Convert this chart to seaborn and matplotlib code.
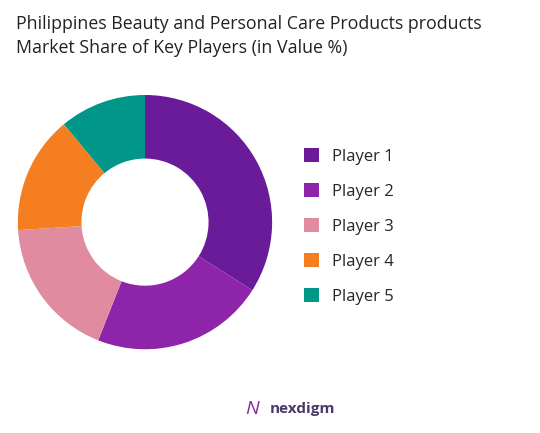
import matplotlib
matplotlib.use("Agg")
import matplotlib.pyplot as plt
import seaborn as sns

sns.set_theme(style="white")
plt.rcParams['font.family'] = ['Open Sans', 'DejaVu Sans']

players = ["Player 1", "Player 2", "Player 3", "Player 4", "Player 5"]
shares = [34, 22, 18, 15, 11]
colors = ["#6A1B9A", "#8E24AA", "#E08BA0", "#F57F20", "#009688"]

fig = plt.figure(figsize=(5.4, 4.33), dpi=100)
ax = fig.add_axes([-0.026, 0.12, 0.589, 0.734])
wedges, _ = ax.pie(shares, colors=colors, startangle=90, counterclock=False,
                   wedgeprops=dict(width=0.5, edgecolor='none'), radius=1.0)
ax.set_xlim(-1.25, 1.25)
ax.set_ylim(-1.25, 1.25)
ax.set_aspect('equal')
fig.legend(wedges, players, loc='center left', bbox_to_anchor=(0.535, 0.477),
           frameon=False, fontsize=12, handlelength=0.9, handleheight=0.9,
           labelspacing=1.1, handletextpad=0.8)
fig.text(0.03, 0.965, "Philippines Beauty and Personal Care Products products\nMarket Share of Key Players (in Value %)",
         fontsize=12.8, va='top', ha='left', color='#222222', linespacing=1.4)
fig.text(0.5, 0.055, "nexdigm", fontsize=11, ha='left', va='center', color='#4a3a6a', weight='bold')
fig.text(0.455, 0.055, "N", fontsize=14, ha='left', va='center', color='#8E24AA', style='italic')
fig.savefig("out.png", dpi=100)
